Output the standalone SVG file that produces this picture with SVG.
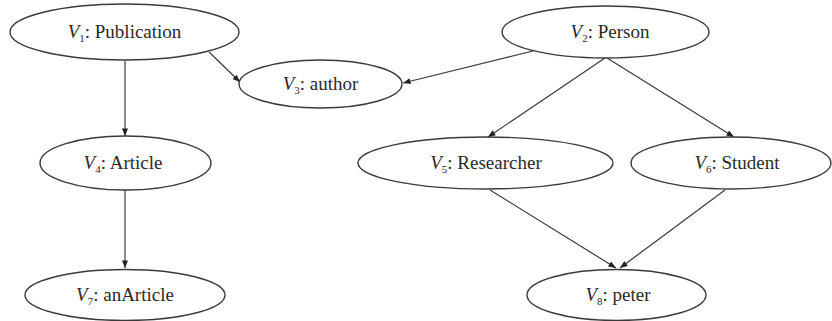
<svg xmlns="http://www.w3.org/2000/svg" width="832" height="321" viewBox="0 0 832 321">
<style>
.n ellipse{fill:#fff;stroke:#3a3a3a;stroke-width:1.4}
.n text{font-family:"Liberation Serif","Times New Roman",serif;font-size:19px;fill:#2a2a2a;text-anchor:middle}
.v{font-style:italic}
.s{font-size:11px}
.e line{stroke:#3a3a3a;stroke-width:1.2;marker-end:url(#a)}
</style>
<defs>
<marker id="a" viewBox="0 0 10 8" refX="10" refY="4" markerWidth="8" markerHeight="6" markerUnits="userSpaceOnUse" orient="auto">
<path d="M0,0 L10,4 L0,8 z" fill="#222"/>
</marker>
</defs>
<rect width="832" height="321" fill="#fff"/>
<g class="e" id="edges">
<line x1="125" y1="61" x2="125" y2="136"/>
<line x1="209" y1="52" x2="240" y2="82"/>
<line x1="533" y1="51" x2="403" y2="83"/>
<line x1="605" y1="58" x2="488" y2="137"/>
<line x1="607" y1="58" x2="734" y2="137"/>
<line x1="125" y1="190" x2="125" y2="268"/>
<line x1="490" y1="190" x2="616" y2="268"/>
<line x1="725" y1="190" x2="620" y2="268"/>
</g>
<g class="n" id="v1"><ellipse cx="124.5" cy="32" rx="114.5" ry="28"/><text x="124.5" y="38"><tspan class="v">V</tspan><tspan class="s" dy="4">1</tspan><tspan dy="-4">: Publication</tspan></text></g>
<g class="n" id="v2"><ellipse cx="605.5" cy="32" rx="103.5" ry="26"/><text x="610" y="38"><tspan class="v">V</tspan><tspan class="s" dy="4">2</tspan><tspan dy="-4">: Person</tspan></text></g>
<g class="n" id="v3"><ellipse cx="320.5" cy="84" rx="81.5" ry="24"/><text x="320.5" y="90"><tspan class="v">V</tspan><tspan class="s" dy="4">3</tspan><tspan dy="-4">: author</tspan></text></g>
<g class="n" id="v4"><ellipse cx="125.5" cy="163" rx="85.5" ry="27"/><text x="123" y="169"><tspan class="v">V</tspan><tspan class="s" dy="4">4</tspan><tspan dy="-4">: Article</tspan></text></g>
<g class="n" id="v5"><ellipse cx="485.5" cy="163" rx="127.5" ry="26"/><text x="486" y="169"><tspan class="v">V</tspan><tspan class="s" dy="4">5</tspan><tspan dy="-4">: Researcher</tspan></text></g>
<g class="n" id="v6"><ellipse cx="731" cy="163" rx="100" ry="26"/><text x="737" y="169"><tspan class="v">V</tspan><tspan class="s" dy="4">6</tspan><tspan dy="-4">: Student</tspan></text></g>
<g class="n" id="v7"><ellipse cx="125" cy="295" rx="100" ry="25.5"/><text x="125" y="301"><tspan class="v">V</tspan><tspan class="s" dy="4">7</tspan><tspan dy="-4">: anArticle</tspan></text></g>
<g class="n" id="v8"><ellipse cx="616.5" cy="295" rx="89.5" ry="25.5"/><text x="618" y="301"><tspan class="v">V</tspan><tspan class="s" dy="4">8</tspan><tspan dy="-4">: peter</tspan></text></g>
</svg>
